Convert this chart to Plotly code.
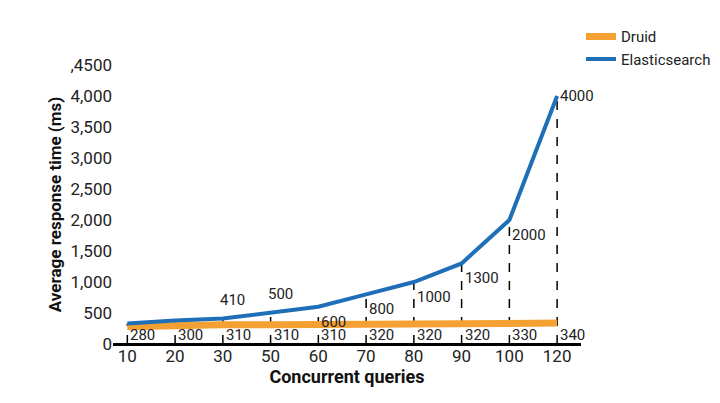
import plotly.graph_objects as go

# DATA
queries = ["10", "20", "30", "50", "60", "70", "80", "90", "100", "120"]
druid = [280, 300, 310, 310, 310, 320, 320, 320, 330, 340]
elastic = [330, 380, 410, 500, 600, 800, 1000, 1300, 2000, 4000]
elastic_labels = ["", "", "410", "500", "600", "800", "1000", "1300", "2000", "4000"]
y_ticks = [0, 500, 1000, 1500, 2000, 2500, 3000, 3500, 4000, 4500]
y_ticktext = ["0", "500", "1,000", "1,500", "2,000", "2,500", "3,000", "3,500", "4,000", ",4500"]

ORANGE = "#f5a033"
BLUE = "#1f6fb8"
FONT = "Roboto"

fig = go.Figure()

# DASHED DROP LINES FROM AXIS TO ELASTICSEARCH POINT
dx, dy = [], []
for q, v in zip(queries, elastic):
    dx += [q, q, None]
    dy += [0, v, None]
fig.add_trace(go.Scatter(x=dx, y=dy, mode="lines", showlegend=False, hoverinfo="skip",
                         line=dict(color="black", width=1.5, dash="dash")))

fig.add_trace(go.Scatter(x=queries, y=druid, mode="lines", name="Druid",
                         line=dict(color=ORANGE, width=7)))
fig.add_trace(go.Scatter(x=queries, y=elastic, mode="lines", name="Elasticsearch",
                         line=dict(color=BLUE, width=4)))

# DRUID LABELS ALONG THE BOTTOM (category index as x)
for i, v in enumerate(druid):
    fig.add_annotation(x=i, y=150, text=str(v), showarrow=False, xanchor="left",
                       xshift=1, font=dict(size=15, color="#222"))

# ELASTICSEARCH LABELS (above for 30 and 50, otherwise below-right)
for i, (q, v, t) in enumerate(zip(queries, elastic, elastic_labels)):
    if not t:
        continue
    if q in ("30", "50"):
        fig.add_annotation(x=i, y=v, text=t, showarrow=False, xanchor="center",
                           yanchor="bottom", yshift=8, xshift=10, font=dict(size=15, color="#222"))
    elif q == "120":
        fig.add_annotation(x=i, y=v, text=t, showarrow=False, xanchor="left",
                           yanchor="middle", xshift=1, font=dict(size=15, color="#222"))
    else:
        fig.add_annotation(x=i, y=v, text=t, showarrow=False, xanchor="left",
                           yanchor="top", xshift=1, yshift=-4,
                           font=dict(size=15, color="#222"))

fig.update_layout(
    width=720, height=403,
    margin=dict(l=105, r=130, t=46, b=67),
    plot_bgcolor="white", paper_bgcolor="white",
    font=dict(family=FONT, color="#222"),
    legend=dict(x=1.0, y=1.16, xanchor="left", yanchor="top", font=dict(size=15),
                bgcolor="rgba(0,0,0,0)"),
)
fig.update_xaxes(type="category", range=[-0.3, 9.5], showgrid=False, showline=False,
                 ticks="", tickfont=dict(size=17),
                 title=dict(text="<b>Concurrent queries</b>", font=dict(size=18, color="#111"), standoff=2))
fig.update_yaxes(range=[0, 4500], tickvals=y_ticks, ticktext=y_ticktext, showgrid=False,
                 zeroline=True, zerolinecolor="black", zerolinewidth=3,
                 showline=False, tickfont=dict(size=17),
                 title=dict(text="<b>Average response time (ms)</b>", font=dict(size=17, color="#111"), standoff=4))

fig.write_html("out.html")
